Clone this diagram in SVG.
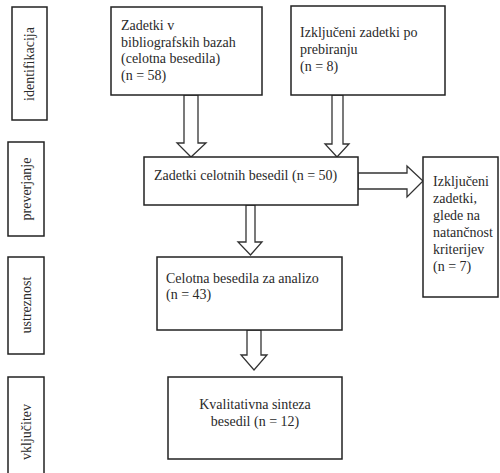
<svg xmlns="http://www.w3.org/2000/svg" width="500" height="473" viewBox="0 0 500 473" font-family="'Liberation Serif', 'DejaVu Serif', serif">
<style>
.box{fill:#fff;stroke:#222;stroke-width:1.5}
.arr{fill:#fff;stroke:#333;stroke-width:1.3;stroke-linejoin:miter}
text{font-family:'Liberation Serif','DejaVu Serif',serif;font-size:14px;fill:#2a2a2a}
.mid{text-anchor:middle}
</style>
<rect width="500" height="473" fill="#fff"/>
<g id="connectors">
<polygon class="arr" points="184,95 198,95 198,143 206,143 191,157 177,143 184,143"/>
<polygon class="arr" points="332,95 343,95 343,144 349,144 337,157 325,144 332,144"/>
<polygon class="arr" points="246,205 255,205 255,242 262,242 250.5,255 238,242 246,242"/>
<polygon class="arr" points="247,330 261,330 261,355 267,355 254,370 241,355 247,355"/>
<polygon class="arr" points="358,173 407,173 407,166 423,181 407,197 407,189 358,189"/>
</g>
<g id="stage-identifikacija">
<rect class="box" x="12" y="7" width="35" height="113"/>
<text class="mid" transform="translate(34,64) rotate(-90)">identifikacija</text>
</g>
<g id="stage-preverjanje">
<rect class="box" x="8" y="142" width="36" height="94"/>
<text class="mid" transform="translate(31,189) rotate(-90)">preverjanje</text>
</g>
<g id="stage-ustreznost">
<rect class="box" x="8" y="257" width="36" height="97"/>
<text class="mid" transform="translate(31,305) rotate(-90)">ustreznost</text>
</g>
<g id="stage-vkljucitev">
<rect class="box" x="8" y="377" width="36" height="100"/>
<text class="mid" transform="translate(31,432) rotate(-90)">vključitev</text>
</g>
<g id="node-zadetki-baze">
<rect class="box" x="111" y="7" width="151" height="88"/>
<text x="121" y="30">Zadetki v</text>
<text x="121" y="47">bibliografskih bazah</text>
<text x="121" y="63">(celotna besedila)</text>
<text x="121" y="80">(n = 58)</text>
</g>
<g id="node-izkljuceni-prebiranje">
<rect class="box" x="291" y="6" width="154" height="89"/>
<text x="300" y="37">Izključeni zadetki po</text>
<text x="300" y="54">prebiranju</text>
<text x="300" y="71">(n = 8)</text>
</g>
<g id="node-zadetki-celotnih">
<rect class="box" x="144" y="157" width="214" height="48"/>
<text x="154" y="180">Zadetki celotnih besedil (n = 50)</text>
</g>
<g id="node-izkljuceni-kriteriji">
<rect class="box" x="423" y="157" width="75" height="140"/>
<text x="433" y="186">Izključeni</text>
<text x="433" y="203">zadetki,</text>
<text x="433" y="220">glede na</text>
<text x="433" y="237">natančnost</text>
<text x="433" y="254">kriterijev</text>
<text x="433" y="271">(n = 7)</text>
</g>
<g id="node-celotna-analiza">
<rect class="box" x="157" y="257" width="185" height="73"/>
<text x="166" y="283">Celotna besedila za analizo</text>
<text x="166" y="299">(n = 43)</text>
</g>
<g id="node-sinteza">
<rect class="box" x="168" y="377" width="174" height="82"/>
<text class="mid" x="255" y="409">Kvalitativna sinteza</text>
<text class="mid" x="255" y="426">besedil (n = 12)</text>
</g>
</svg>
